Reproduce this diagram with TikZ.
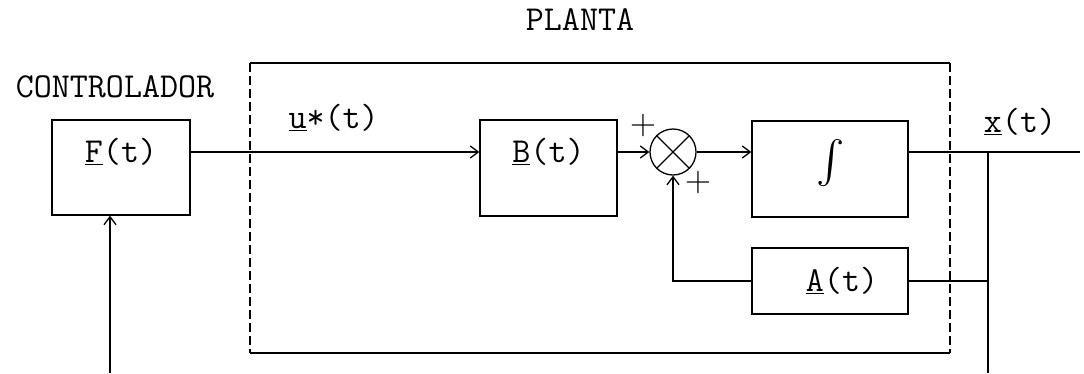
\documentclass[tikz,border=0pt]{standalone}
\usepackage{fontspec}
\usetikzlibrary{arrows.meta}
\begin{document}
\begin{tikzpicture}[x=1pt,y=-1pt,
  font=\ttfamily\fontsize{35}{40}\selectfont,
  wire/.style={line width=1.3pt},
  blk/.style={draw, line width=1.3pt, inner sep=0pt},
  arr/.style={wire, -{Straight Barb[length=8pt,width=12pt,line width=1.3pt]}},
  plus/.style={font=\rmfamily\fontsize{36}{40}\selectfont, inner sep=0pt},
  frame/.style={line width=1.3pt},
  dframe/.style={line width=1.3pt, dash pattern=on 9pt off 4pt}]
\useasboundingbox (0,0) rectangle (1084,373);

% plant frame
\coordinate (p1) at (250,63);
\coordinate (p2) at (950,63);
\coordinate (p3) at (950,353);
\coordinate (p4) at (250,353);
\draw[frame] (p1) -- (p2);
\draw[frame] (p4) -- (p3);
\draw[dframe] (p1) -- (p4);
\draw[dframe] (p2) -- (p3);

% titles
\node (planta) at (580,20) {PLANTA};
\node (ctrl) at (115,87) {CONTROLADOR};

% blocks
\node[blk, minimum width=138pt, minimum height=95pt] (F) at (121,167.5) {};
\node (Flab) at (121,152) {\underline{F}(t)};
\node[blk, minimum width=137pt, minimum height=96pt] (B) at (548.5,168) {};
\node (Blab) at (548.5,152) {\underline{B}(t)};
\node[draw, circle, line width=1.3pt, minimum size=46pt, inner sep=0pt] (S) at (673,152) {};
\draw[wire] (S.north west) -- (S.south east);
\draw[wire] (S.north east) -- (S.south west);
\node[blk, minimum width=156pt, minimum height=96pt] (I) at (830,169) {};
\node[inner sep=0pt] (Ilab) at (831,165) {\resizebox{!}{50pt}{$\int$}};
\node[blk, minimum width=156pt, minimum height=66pt] (A) at (830,281) {};
\node (Alab) at (842,281) {\underline{A}(t)};

% signs and signal labels
\node[plus] (pl1) at (643,126) {+};
\node[plus] (pl2) at (698,183) {+};
\node[anchor=west] (ulab) at (285,118) {\underline{u}*(t)};
\node (xlab) at (1020,122) {\underline{x}(t)};

% connectors
\coordinate (out) at (1080,152);
\coordinate (tap) at (988,152);
\coordinate (bot) at (988,373);
\coordinate (fb) at (110,373);
\draw[arr] (F.east |- S) -- (B.west |- S);
\draw[arr] (B.east |- S) -- (S.west);
\draw[arr] (S.east) -- (I.west |- S);
\draw[wire] (I.east |- S) -- (out);
\draw[wire] (tap) -- (bot);
\draw[wire] (A.east) -- (A.east -| tap);
\draw[arr] (A.west) -| (S.south);
\draw[arr] (fb) -- (fb |- F.south);
\end{tikzpicture}
\end{document}
